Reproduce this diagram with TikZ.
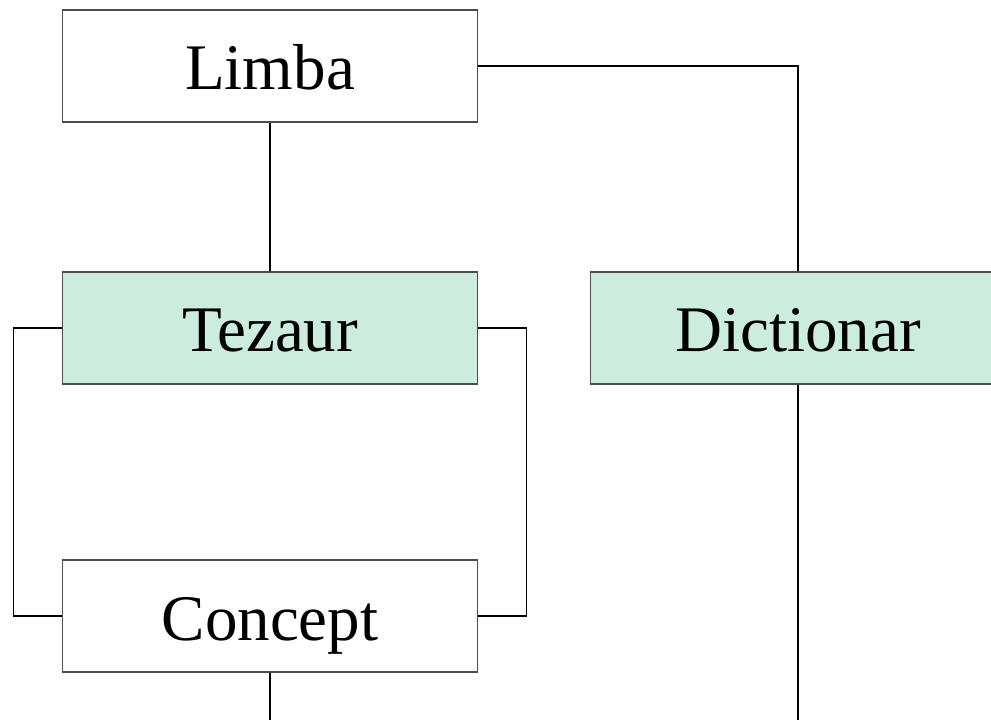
\documentclass[tikz,border=0pt]{standalone}
\usepackage{fontspec}
\setmainfont{Liberation Serif}
\definecolor{mintfill}{RGB}{204,236,222}
\tikzset{
  box/.style={draw=black!70, line width=0.6pt, minimum width=8.32cm, minimum height=2.24cm,
    inner sep=0pt, text height=1.2cm, text depth=0.24cm, font=\fontsize{37}{40}\selectfont},
  greenbox/.style={box, fill=mintfill},
  link/.style={draw=black, line width=1.1pt}
}
\begin{document}
\begin{tikzpicture}[x=0.02cm,y=-0.02cm]
  \useasboundingbox (0,0) rectangle (991,720);
  \clip (0,0) rectangle (991,720);
  % boxes
  \node[box] (limba) at (270,66) {Limba};
  \node[greenbox] (tezaur) at (270,328) {Tezaur};
  \node[greenbox] (dict) at (798,328) {Dictionar};
  \node[box] (concept) at (270,616) {Concept};
  \coordinate (conceptend) at (270,725);
  \coordinate (dictend) at (798,725);
  % links
  \draw[link] (limba.south) -- (tezaur.north);
  \draw[link] (limba.east) -| (dict.north);
  \draw[link] (tezaur.west) -- ++(-48,0) |- (concept.west);
  \draw[link] (tezaur.east) -- ++(48,0) |- (concept.east);
  \draw[link] (concept.south) -- (conceptend);
  \draw[link] (dict.south) -- (dictend);
\end{tikzpicture}
\end{document}
